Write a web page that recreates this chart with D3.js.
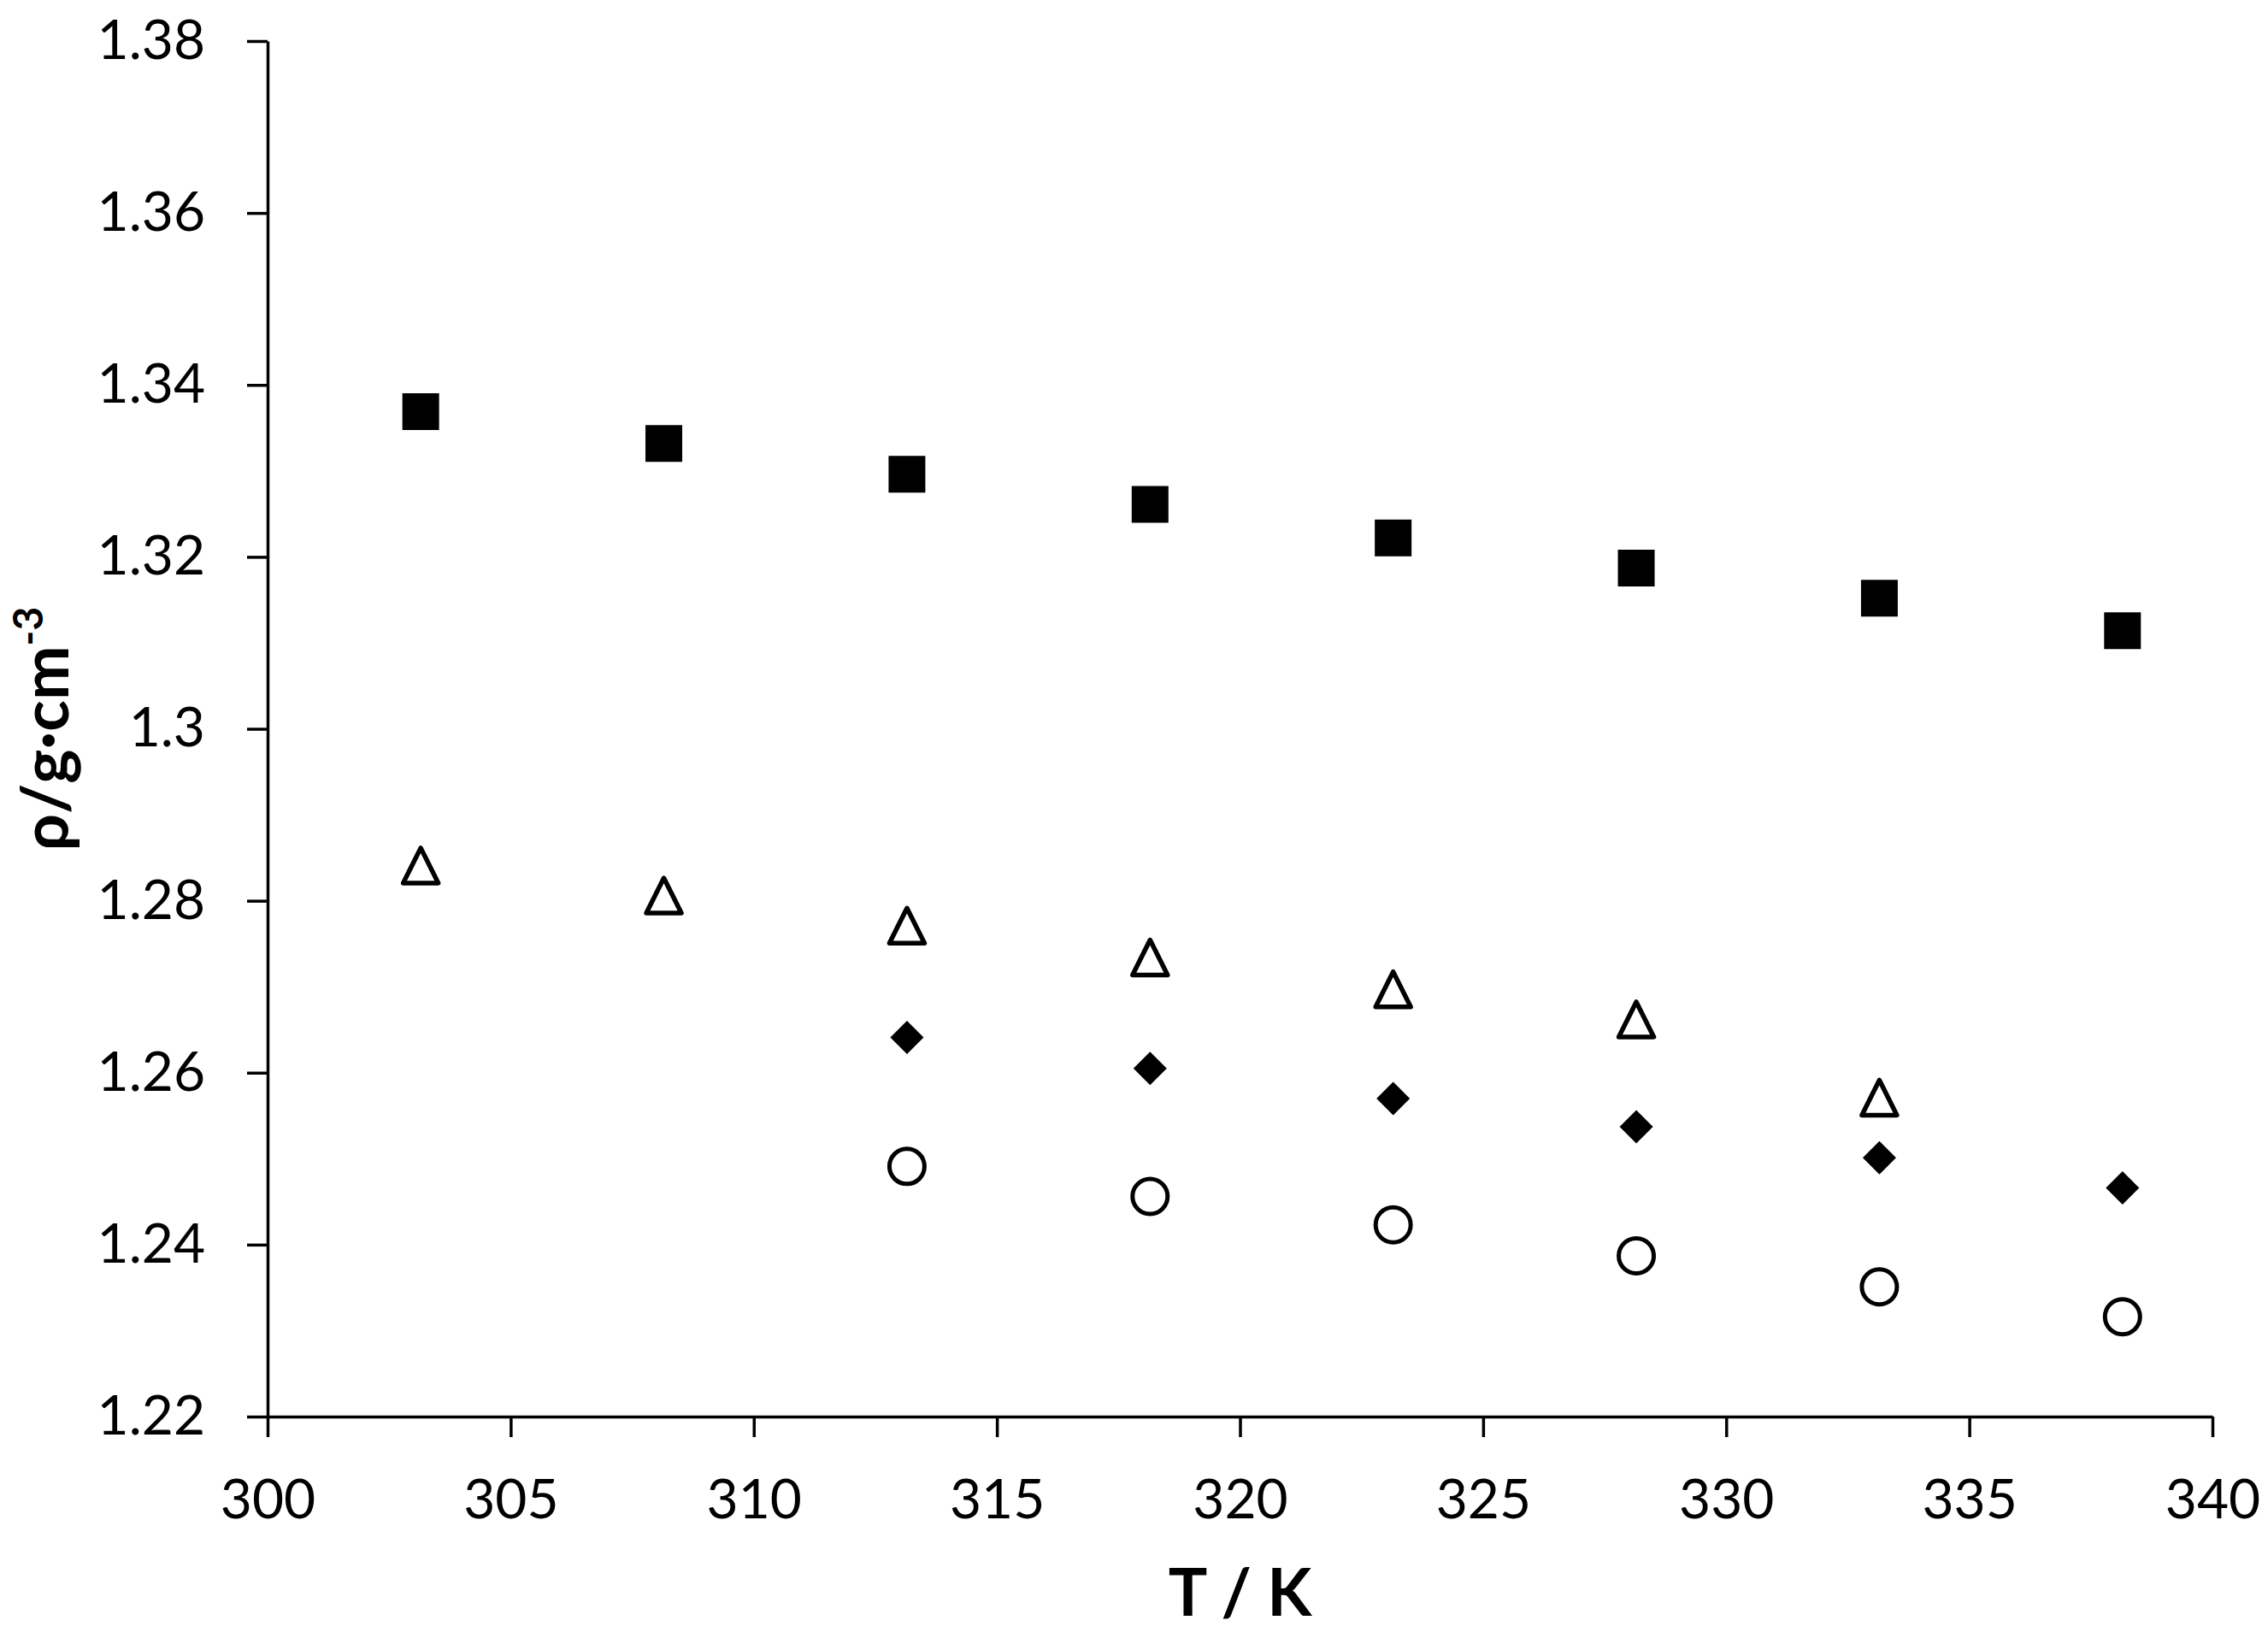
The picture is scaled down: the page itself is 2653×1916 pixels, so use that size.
<!DOCTYPE html>
<html>
<head>
<meta charset="utf-8">
<script src="https://cdn.jsdelivr.net/npm/d3@7"></script>
<style>
  html, body { margin: 0; padding: 0; background: #fff; }
  svg { display: block; }
  .tick text { font-family: Lato, "Open Sans", sans-serif; font-size: 64px; fill: #000; }
  .title { font-family: Lato, "Open Sans", sans-serif; font-weight: bold; fill: #000; }
</style>
</head>
<body>
<svg id="chart" width="2653" height="1916"></svg>
<script>
// ---- data ----
const temperatures = [303.15, 308.15, 313.15, 318.15, 323.15, 328.15, 333.15, 338.15];
const densitySquare   = [1.3369, 1.3332, 1.3296, 1.3261, 1.3222, 1.3187, 1.3152, 1.3114];
const densityTriangle = [1.2841, 1.2806, 1.2771, 1.2734, 1.2697, 1.2662, 1.2571, null];
const densityDiamond  = [null, null, 1.2641, 1.2605, 1.2570, 1.2537, 1.2501, 1.2466];
const densityCircle   = [null, null, 1.2491, 1.2456, 1.2423, 1.2387, 1.2351, 1.2316];

const xTicks = [300, 305, 310, 315, 320, 325, 330, 335, 340];
const yTicks = [1.22, 1.24, 1.26, 1.28, 1.30, 1.32, 1.34, 1.36, 1.38];
const yTickLabels = ["1.22", "1.24", "1.26", "1.28", "1.3", "1.32", "1.34", "1.36", "1.38"];
const xTitle = "T / K";
const yTitleMain = "ρ/g·cm";
const yTitleSup = "-3";

// ---- layout ----
const svg = d3.select("#chart");
const x = d3.scaleLinear().domain([300, 340]).range([313, 2588]);
const y = d3.scaleLinear().domain([1.22, 1.38]).range([1657, 48]);

// axes
const xAxis = d3.axisBottom(x).tickValues(xTicks).tickSize(24).tickSizeOuter(0).tickPadding(50)
  .tickFormat(d3.format("d"));
const yAxis = d3.axisLeft(y).tickValues(yTicks).tickSize(24).tickSizeOuter(0).tickPadding(49)
  .tickFormat((d, i) => yTickLabels[i]);

const gx = svg.append("g").attr("transform", `translate(0,${y(1.22)})`).call(xAxis);
const gy = svg.append("g").attr("transform", `translate(${x(300)},0)`).call(yAxis);
[gx, gy].forEach(g => {
  g.select(".domain").attr("stroke", "#000").attr("stroke-width", 3.5);
  g.selectAll(".tick line").attr("stroke", "#000").attr("stroke-width", 3.5);
});

// titles
svg.append("text").attr("class", "title")
  .attr("x", (x(300) + x(340)) / 2).attr("y", 1890)
  .attr("text-anchor", "middle").attr("font-size", 76)
  .text(xTitle);

const yt = svg.append("text").attr("class", "title")
  .attr("transform", `translate(80,${(y(1.22) + y(1.38)) / 2}) rotate(-90)`)
  .attr("text-anchor", "middle").attr("font-size", 76);
yt.append("tspan").text(yTitleMain);
yt.append("tspan").attr("font-size", 48).attr("dy", -30).text(yTitleSup);

// ---- marker shapes ----
const squareType = { draw(ctx, size) { const h = Math.sqrt(size) / 2; ctx.rect(-h, -h, 2 * h, 2 * h); } };
const diamondType = { draw(ctx, size) { const h = Math.sqrt(size) / 2; ctx.moveTo(0, -h); ctx.lineTo(h, 0); ctx.lineTo(0, h); ctx.lineTo(-h, 0); ctx.closePath(); } };
const triangleType = { draw(ctx, size) { const h = Math.sqrt(size) / 2; ctx.moveTo(0, -h); ctx.lineTo(h, h); ctx.lineTo(-h, h); ctx.closePath(); } };

function pts(values) {
  return temperatures.map((t, i) => ({ t, v: values[i] })).filter(d => d.v !== null);
}

const series = [
  { values: densitySquare, type: squareType, side: 43, fill: "#000", stroke: "none", sw: 0 },
  { values: densityTriangle, type: triangleType, side: 41, fill: "#fff", stroke: "#000", sw: 5.5 },
  { values: densityDiamond, type: diamondType, side: 39, fill: "#000", stroke: "none", sw: 0 },
];

series.forEach(s => {
  svg.append("g").selectAll("path").data(pts(s.values)).join("path")
    .attr("transform", d => `translate(${x(d.t)},${y(d.v)})`)
    .attr("d", d3.symbol().type(s.type).size(s.side * s.side))
    .attr("fill", s.fill).attr("stroke", s.stroke).attr("stroke-width", s.sw)
    .attr("stroke-linejoin", "round");
});

svg.append("g").selectAll("circle").data(pts(densityCircle)).join("circle")
  .attr("cx", d => x(d.t)).attr("cy", d => y(d.v)).attr("r", 20.5)
  .attr("fill", "#fff").attr("stroke", "#000").attr("stroke-width", 5);
</script>
</body>
</html>
